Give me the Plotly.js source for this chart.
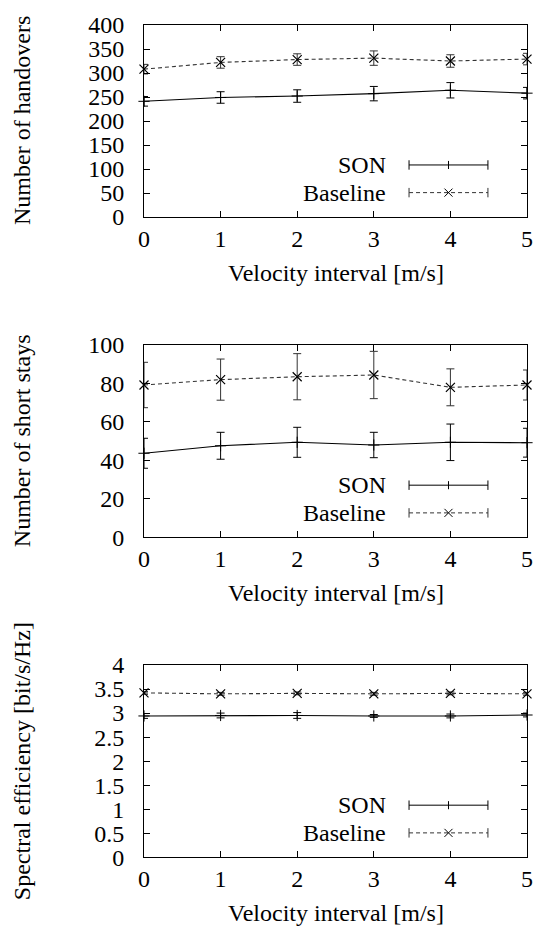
<!DOCTYPE html>
<html>
<head>
<meta charset="utf-8">
<script src="https://cdn.plot.ly/plotly-3.0.1.min.js"></script>
<style>html,body{margin:0;padding:0;background:#fff;}#chart{width:535px;height:944px;}</style>
</head>
<body>
<div id="chart"></div>
<script>
// ---- data ----
var velocity = [0, 1, 2, 3, 4, 5];
var xTickLabels = ['0', '1', '2', '3', '4', '5'];

var handoverSON = [241, 249, 252, 257, 264, 258];
var handoverSONErr = [10, 12, 13, 15, 16, 12];
var handoverBase = [308, 322, 328, 331, 325, 329];
var handoverBaseErr = [10, 12, 12, 15, 13, 12];

var shortSON = [43.7, 47.6, 49.4, 48.0, 49.4, 49.2];
var shortSONErr = [7.8, 7.0, 7.8, 6.6, 9.5, 7.5];
var shortBase = [79.2, 82.0, 83.5, 84.4, 78.0, 79.2];
var shortBaseErr = [11.8, 10.7, 12.0, 12.3, 9.6, 7.8];

var specSON = [2.94, 2.95, 2.95, 2.94, 2.94, 2.96];
var specSONErr = [0.05, 0.05, 0.06, 0.03, 0.04, 0.04];
var specBase = [3.42, 3.40, 3.41, 3.40, 3.41, 3.40];
var specBaseErr = [0.03, 0.03, 0.03, 0.03, 0.03, 0.03];

var seriesNames = ['SON', 'Baseline'];
var yTitles = ['Number of handovers', 'Number of short stays', 'Spectral efficiency [bit/s/Hz]'];
var xTitle = 'Velocity interval [m/s]';
var yRanges = [[0, 400], [0, 100], [0, 4]];
var yDticks = [50, 20, 0.5];

// ---- styling ----
var FONT = '"Times New Roman", "Liberation Serif", Tinos, "DejaVu Serif", serif';
var FS = 24;
var baseColor = '#333333';

function sonTrace(y, err, ax) {
  return {
    x: velocity, y: y, xaxis: 'x' + ax, yaxis: 'y' + ax, name: seriesNames[0],
    type: 'scatter', mode: 'lines+markers', cliponaxis: false, showlegend: false,
    line: {color: '#000', width: 1.1},
    marker: {symbol: 'cross-thin-open', size: 8, color: '#000', line: {color: '#000', width: 1}},
    error_y: {type: 'data', array: err, visible: true, color: '#000', thickness: 1, width: 4}
  };
}
function baseTrace(y, err, ax) {
  return {
    x: velocity, y: y, xaxis: 'x' + ax, yaxis: 'y' + ax, name: seriesNames[1],
    type: 'scatter', mode: 'lines+markers', cliponaxis: false, showlegend: false,
    line: {color: baseColor, width: 1.1, dash: '4px,3px'},
    marker: {symbol: 'x-thin-open', size: 9, color: '#000', line: {color: '#000', width: 1.2}},
    error_y: {type: 'data', array: err, visible: true, color: baseColor, thickness: 1, width: 4}
  };
}

var data = [
  sonTrace(handoverSON, handoverSONErr, ''),
  baseTrace(handoverBase, handoverBaseErr, ''),
  sonTrace(shortSON, shortSONErr, '2'),
  baseTrace(shortBase, shortBaseErr, '2'),
  sonTrace(specSON, specSONErr, '3'),
  baseTrace(specBase, specBaseErr, '3')
];

var W = 535, H = 944;
var xDom = [144 / W, 527 / W];
var panels = [[25, 217], [345, 537.3], [665, 857.3]];

function xAxis(anchor) {
  return {
    domain: xDom, anchor: anchor, range: [0, 5], tickvals: velocity, ticktext: xTickLabels,
    ticks: 'inside', ticklen: 6, tickcolor: '#000', mirror: 'ticks', showline: true,
    linecolor: '#000', linewidth: 1, showgrid: false, zeroline: false,
    tickfont: {family: FONT, size: FS, color: '#000'}, ticklabelstandoff: 0,
    fixedrange: true
  };
}
function yAxis(anchor, i) {
  return {
    domain: [1 - panels[i][1] / H, 1 - panels[i][0] / H], anchor: anchor,
    range: yRanges[i], dtick: yDticks[i], tick0: 0,
    ticks: 'inside', ticklen: 6, tickcolor: '#000', mirror: 'ticks', showline: true,
    linecolor: '#000', linewidth: 1, showgrid: false, zeroline: false,
    tickfont: {family: FONT, size: FS, color: '#000'}, ticklabelstandoff: 14,
    fixedrange: true
  };
}

var annotations = [];
var shapes = [];
// axis titles as annotations
['', '2', '3'].forEach(function (ax, i) {
  annotations.push({
    xref: 'x' + ax + ' domain', yref: 'y' + ax + ' domain', x: 0.5, y: 0, yshift: -56,
    xanchor: 'center', yanchor: 'middle', text: xTitle, showarrow: false,
    font: {family: FONT, size: FS, color: '#000'}
  });
  annotations.push({
    xref: 'paper', yref: 'y' + ax + ' domain', x: 22 / W, y: 0.5, textangle: -90,
    xanchor: 'center', yanchor: 'middle', text: yTitles[i], showarrow: false,
    font: {family: FONT, size: FS, color: '#000'}
  });
});

// legend drawn as annotations + shapes (sample on the right of label, as in reference)
var legY = [0.271, 0.127];
var textX = 0.637, s0 = 0.692, s1 = 0.898, sm = 0.795;
var capH = 0.0245, mx = 0.0105, my = 0.021;
['', '2', '3'].forEach(function (ax) {
  var xr = 'x' + ax + ' domain', yr = 'y' + ax + ' domain';
  for (var k = 0; k < 2; k++) {
    var col = k === 0 ? '#000' : baseColor;
    var dash = k === 0 ? 'solid' : '4px,3px';
    annotations.push({
      xref: xr, yref: yr, x: textX, y: legY[k], xanchor: 'right', yanchor: 'middle',
      text: seriesNames[k], showarrow: false, font: {family: FONT, size: FS, color: '#000'}
    });
    shapes.push({type: 'line', xref: xr, yref: yr, x0: s0, x1: s1, y0: legY[k], y1: legY[k],
      line: {color: col, width: 1, dash: dash}});
    shapes.push({type: 'line', xref: xr, yref: yr, x0: s0, x1: s0, y0: legY[k] - capH, y1: legY[k] + capH,
      line: {color: col, width: 1}});
    shapes.push({type: 'line', xref: xr, yref: yr, x0: s1, x1: s1, y0: legY[k] - capH, y1: legY[k] + capH,
      line: {color: col, width: 1}});
    if (k === 0) {
      shapes.push({type: 'line', xref: xr, yref: yr, x0: sm, x1: sm, y0: legY[k] - my, y1: legY[k] + my,
        line: {color: '#000', width: 1}});
    } else {
      shapes.push({type: 'line', xref: xr, yref: yr, x0: sm - mx, x1: sm + mx, y0: legY[k] - my, y1: legY[k] + my,
        line: {color: '#000', width: 1}});
      shapes.push({type: 'line', xref: xr, yref: yr, x0: sm - mx, x1: sm + mx, y0: legY[k] + my, y1: legY[k] - my,
        line: {color: '#000', width: 1}});
    }
  }
});

var layout = {
  width: W, height: H, margin: {l: 0, r: 0, t: 0, b: 0},
  paper_bgcolor: '#fff', plot_bgcolor: '#fff', showlegend: false,
  font: {family: FONT, size: FS, color: '#000'},
  xaxis: xAxis('y'), yaxis: yAxis('x', 0),
  xaxis2: xAxis('y2'), yaxis2: yAxis('x2', 1),
  xaxis3: xAxis('y3'), yaxis3: yAxis('x3', 2),
  annotations: annotations, shapes: shapes
};

Plotly.newPlot('chart', data, layout, {staticPlot: true, displayModeBar: false});
</script>
</body>
</html>
